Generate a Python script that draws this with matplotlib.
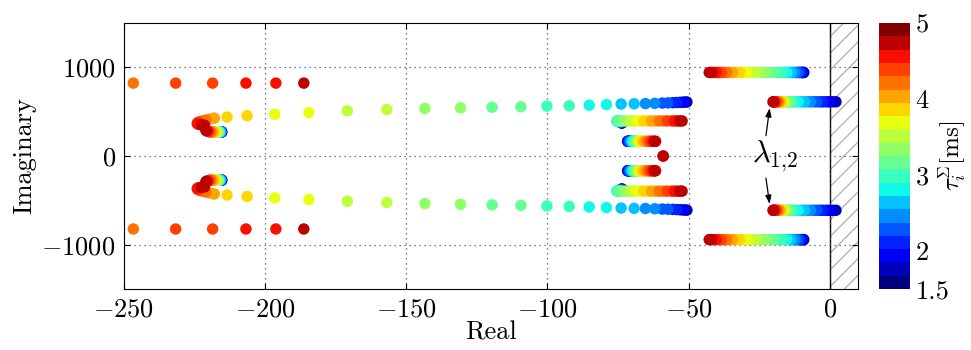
import numpy as np
import matplotlib
matplotlib.use('Agg')
import matplotlib.pyplot as plt
from matplotlib.colors import Normalize

plt.rcParams['font.family'] = 'serif'
plt.rcParams['font.serif'] = ['cmr10', 'DejaVu Serif']
plt.rcParams['mathtext.fontset'] = 'cm'
plt.rcParams['axes.formatter.use_mathtext'] = True

# delay sweep (ms), one value per eigenvalue sample
tau = [1.75, 1.84, 1.92, 2.01, 2.09, 2.18, 2.26, 2.35, 2.44, 2.52,
       2.61, 2.69, 2.78, 2.86, 2.95, 3.04, 3.12, 3.21, 3.29, 3.38,
       3.46, 3.55, 3.64, 3.72, 3.81, 3.89, 3.98, 4.06, 4.15, 4.24,
       4.32, 4.41, 4.49, 4.58, 4.66, 4.75]

# far-left branch (only visible for large delays)
tau_a = [4.24, 4.32, 4.41, 4.49, 4.62, 4.72]
re_a = [-246.7, -231.7, -218.6, -206.8, -196.2, -186.3]
im_a = [823, 823, 823, 823, 823, 823]

# long arc branch
re_b = [-50.6, -51.2, -52.0, -53.0, -54.2, -55.6, -57.3, -59.3, -62.0, -65.3,
        -69.3, -73.9, -79.1, -85.2, -92.3, -100.2, -109.4, -119.6, -130.8, -143.4,
        -156.9, -170.9, -184.5, -196.6, -206.4, -213.5, -218.0, -219.5, -221.0, -222.5,
        -223.5, -224.0, -224.0, -223.5, -222.5, -221.5]
im_b = [610, 609, 608, 606, 604, 602, 600, 598, 595, 592,
        590, 587, 581, 574, 568, 563, 556, 551, 544, 536,
        524, 510, 491, 472, 456, 440, 428, 418, 406, 395,
        384, 373, 364, 357, 352, 348]

# short branch near -215
re_c = [-215.4, -215.4, -215.5, -215.5, -215.6, -215.6, -215.7, -215.7, -215.8, -215.9,
        -216.0, -216.1, -216.2, -216.3, -216.4, -216.5, -216.6, -216.7, -216.8, -217.0,
        -217.2, -217.4, -217.6, -217.8, -218.0, -218.3, -218.6, -218.9, -219.2, -219.5,
        -219.8, -220.1, -220.4, -220.6, -220.8, -221.0]
im_c = [272, 272, 272, 272, 272, 272, 272, 272, 272, 272,
        272, 272, 272, 272, 272, 272, 272, 272, 272, 272,
        272, 272, 272, 272, 272, 272, 272, 272, 272, 272,
        275, 278, 281, 284, 287, 290]

# branch near -75 / 396
re_d = [-73.6, -73.7, -73.8, -73.9, -74.0, -74.1, -74.2, -74.3, -74.5, -74.7,
        -74.9, -75.0, -75.1, -75.3, -75.4, -75.2, -74.6, -73.8, -72.8, -71.6,
        -70.5, -69.5, -68.5, -67.2, -65.8, -64.4, -63.1, -61.8, -60.4, -59.0,
        -57.6, -56.1, -55.0, -54.0, -53.1, -52.3]
im_d = [372, 374, 376, 378, 380, 382, 384, 386, 388, 390,
        391, 392, 393, 395, 396, 396, 396, 396, 396, 396,
        396, 396, 396, 396, 396, 396, 396, 396, 396, 396,
        396, 396, 396, 396, 396, 396]

# branch near -70 / 166
re_e = [-71.6, -71.5, -71.4, -71.3, -71.2, -71.1, -70.9, -70.7, -70.5, -70.3,
        -70.1, -69.9, -69.7, -69.5, -69.3, -69.0, -68.8, -68.5, -68.3, -68.0,
        -67.8, -67.5, -67.3, -66.8, -66.4, -65.9, -65.5, -65.0, -64.5, -64.0,
        -63.6, -63.1, -62.7, -62.3, -62.0, -61.7]
im_e = [166] * 36

# real eigenvalue at largest delay
tau_f = [4.75]
re_f = [-59.0]
im_f = [0]

# outer branch near 943
re_g = [-9.2, -9.4, -9.7, -10.0, -10.4, -10.8, -11.3, -11.8, -12.4, -13.0,
        -13.7, -14.4, -15.2, -16.0, -17.0, -18.3, -19.7, -21.2, -22.7, -24.2,
        -25.8, -27.4, -29.0, -30.5, -31.9, -33.2, -34.4, -35.5, -36.5, -37.5,
        -38.4, -39.3, -40.2, -41.0, -41.9, -42.7]
im_g = [943] * 36

# dominant pair lambda_{1,2}
re_l = [2.2, 1.0, -0.1, -1.2, -2.4, -3.5, -4.6, -5.7, -6.8, -7.9,
        -8.9, -10.0, -11.2, -12.3, -13.0, -13.7, -14.3, -14.9, -15.3, -15.7,
        -16.0, -16.3, -16.6, -16.9, -17.2, -17.5, -17.8, -18.1, -18.4, -18.7,
        -19.0, -19.3, -19.5, -19.7, -19.9, -20.1]
im_l = [612] * 36

# collect everything (plus conjugates)
re_all, im_all, t_all = [], [], []
for t, re, im in [(tau_a, re_a, im_a), (tau, re_b, im_b), (tau, re_c, im_c),
                  (tau, re_d, im_d), (tau, re_e, im_e), (tau_f, re_f, im_f),
                  (tau, re_g, im_g), (tau, re_l, im_l)]:
    re_all += list(re) * 2
    im_all += list(im) + [-v for v in im]
    t_all += list(t) * 2
re_all = np.array(re_all)
im_all = np.array(im_all)
t_all = np.array(t_all)
order = np.argsort(t_all, kind='stable')

fig = plt.figure(figsize=(9.71, 3.5), dpi=100)
ax = fig.add_axes([0.1277, 0.1743, 0.7559, 0.7597])
cax = fig.add_axes([0.9053, 0.1743, 0.0319, 0.7597])

cmap = plt.get_cmap('jet', 20)
norm = Normalize(vmin=1.5, vmax=5)

ax.axvspan(0, 10, facecolor='none', edgecolor='#b5b5b5', hatch='//', linewidth=0, zorder=0)
ax.axvline(0, color='k', lw=1.0, zorder=1)

sc = ax.scatter(re_all[order], im_all[order], c=t_all[order], cmap=cmap, norm=norm,
                s=68, linewidths=0, zorder=3)

ax.set_xlim(-250, 10)
ax.set_ylim(-1500, 1500)
ax.set_xticks([-250, -200, -150, -100, -50, 0])
ax.set_yticks([-1000, 0, 1000])
ax.grid(True, linestyle=(0, (1, 3)), color='#555555', linewidth=0.9)
ax.tick_params(direction='in', top=True, right=True, length=4, labelsize=19, pad=6)
ax.set_xlabel('Real', fontsize=19, labelpad=0)
ax.set_ylabel('Imaginary', fontsize=19, labelpad=4)

# lambda label with two arrows
ax.text(-19.5, -10, r'$\lambda_{1{,}2}$', fontsize=22, ha='center', va='center', zorder=4)
ax.annotate('', xy=(-21.3, 540), xytext=(-22.6, 230),
            arrowprops=dict(arrowstyle='-|>,head_length=0.5,head_width=0.18', color='k', lw=0.9,
                            shrinkA=0, shrinkB=0))
ax.annotate('', xy=(-21.3, -540), xytext=(-22.6, -250),
            arrowprops=dict(arrowstyle='-|>,head_length=0.5,head_width=0.18', color='k', lw=0.9,
                            shrinkA=0, shrinkB=0))

cb = fig.colorbar(sc, cax=cax)
cb.set_ticks([1.5, 2, 3, 4, 5])
cb.set_ticklabels(['1.5', '2', '3', '4', '5'])
cb.ax.tick_params(length=0, labelsize=19, pad=4)
cb.outline.set_visible(False)
cb.set_label(r'$\tau_i^{\Sigma}$[ms]', fontsize=18, labelpad=-9)

plt.savefig('out.png', dpi=100)
